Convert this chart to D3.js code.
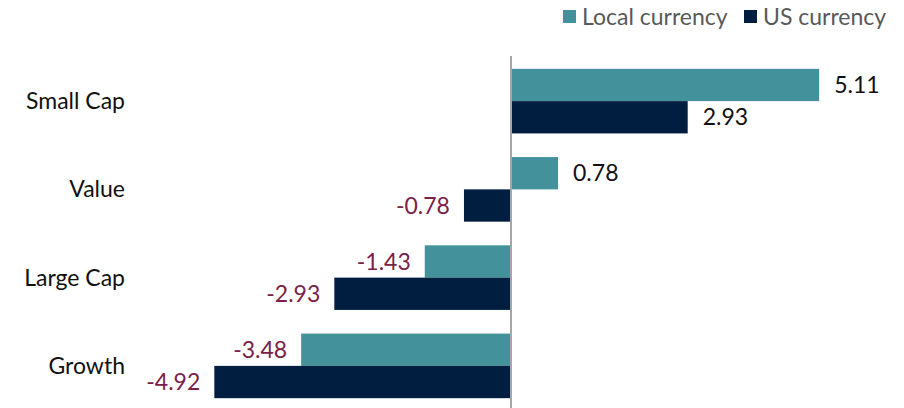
<!DOCTYPE html>
<html>
<head>
<meta charset="utf-8">
<script src="https://cdn.jsdelivr.net/npm/d3@7"></script>
<style>
  body { margin: 0; background: #fff; }
  svg { display: block; font-family: Lato, "Noto Sans", sans-serif; }
</style>
</head>
<body>
<div id="chart"></div>
<script>
const W = 904, H = 408;

// data
const categories = ["Small Cap", "Value", "Large Cap", "Growth"];
const seriesNames = ["Local currency", "US currency"];
const localValues = [5.11, 0.78, -1.43, -3.48];
const usValues = [2.93, -0.78, -2.93, -4.92];
const colors = ["#43919a", "#011e41"];

const rows = categories.map((c, i) => ({ cat: c, vals: [localValues[i], usValues[i]] }));

const svg = d3.select("#chart").append("svg")
  .attr("width", W)
  .attr("height", H);

// x: about 60.3 px per unit, zero at 511
const x = d3.scaleLinear()
  .domain([-5, 6])
  .range([511 - 5 * 60.3, 511 + 6 * 60.3]);

const y = d3.scaleBand()
  .domain(categories)
  .range([57, 410])
  .paddingInner(0.268)
  .paddingOuter(0.134);

const ySub = d3.scaleBand()
  .domain([0, 1])
  .range([0, y.bandwidth()]);

const groups = svg.selectAll(".grp")
  .data(rows)
  .enter()
  .append("g")
  .attr("class", "grp")
  .attr("transform", d => `translate(0,${y(d.cat)})`);

groups.selectAll("rect")
  .data(d => d.vals)
  .enter()
  .append("rect")
  .attr("x", v => x(Math.min(0, v)))
  .attr("y", (v, i) => ySub(i))
  .attr("width", v => Math.abs(x(v) - x(0)))
  .attr("height", ySub.bandwidth())
  .attr("fill", (v, i) => colors[i]);

// value labels
groups.selectAll("text.val")
  .data(d => d.vals)
  .enter()
  .append("text")
  .attr("class", "val")
  .attr("x", v => v >= 0 ? x(v) + 15 : x(v) - 14)
  .attr("y", (v, i) => ySub(i) + ySub.bandwidth() / 2)
  .attr("dy", "0.35em")
  .attr("text-anchor", v => v >= 0 ? "start" : "end")
  .attr("fill", v => v >= 0 ? "#111" : "#7b2147")
  .style("font-size", "23px")
  .text(v => v.toFixed(2));

// category labels
svg.selectAll("text.cat")
  .data(categories)
  .enter()
  .append("text")
  .attr("class", "cat")
  .attr("x", 125)
  .attr("y", d => y(d) + y.bandwidth() / 2)
  .attr("dy", "0.35em")
  .attr("text-anchor", "end")
  .attr("fill", "#111")
  .style("font-size", "23px")
  .text(d => d);

// zero line
svg.append("line")
  .attr("x1", x(0)).attr("x2", x(0))
  .attr("y1", 56).attr("y2", H)
  .attr("stroke", "#a6a6a6")
  .attr("stroke-width", 2);

// legend
const legend = svg.append("g").attr("transform", "translate(563,0)");
const legendX = [0, 181];
seriesNames.forEach((name, i) => {
  const g = legend.append("g").attr("transform", `translate(${legendX[i]},0)`);
  g.append("rect")
    .attr("x", 0).attr("y", 10)
    .attr("width", 13).attr("height", 13)
    .attr("fill", colors[i]);
  g.append("text")
    .attr("x", 19).attr("y", 17)
    .attr("dy", "0.35em")
    .attr("fill", "#595959")
    .style("font-size", "23px")
    .text(name);
});
</script>
</body>
</html>
